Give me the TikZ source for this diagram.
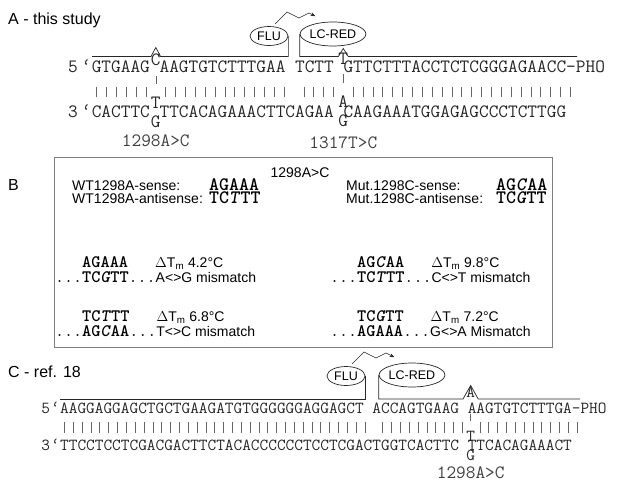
\documentclass[tikz,border=0pt]{standalone}
\usepackage{fontspec}
\setmainfont{Liberation Sans}
\usepackage{tikz}
\usetikzlibrary{positioning,shapes.geometric,arrows.meta}
\newcommand{\seqfont}[1]{\fontencoding{TU}\fontfamily{lmtt}\fontsize{#1}{#1}\selectfont}
\newcommand{\gap}{\phantom{A}}

\begin{document}
\begin{tikzpicture}[x=1pt, y=-1pt,
  font=\fontsize{14}{16}\selectfont,
  title/.style={anchor=base west, inner sep=0pt, font=\fontsize{16}{18}\selectfont},
  txt/.style={anchor=base west, inner sep=0pt},
  seqa/.style={anchor=base west, inner sep=0pt, text=black!85, font=\seqfont{18.8}},
  seqc/.style={anchor=base west, inner sep=0pt, text=black!85, font=\seqfont{16.84}},
  muta/.style={anchor=base, inner sep=0pt, text=black!85, font=\seqfont{18.8}},
  mutc/.style={anchor=base, inner sep=0pt, text=black!85, font=\seqfont{16.84}},
  dna/.style={txt, font=\seqfont{19}\bfseries},
  tag/.style={draw=black!85, ellipse, inner sep=0pt, line width=0.7pt, font=\fontsize{12.5}{14}\selectfont},
  flu/.style={tag, minimum width=38pt, minimum height=19pt},
  lcred/.style={tag, minimum width=61pt, minimum height=24pt},
  strand/.style={draw=black!85, line width=0.7pt},
  pair/.style={draw=black!60, line width=0.6pt},
  fret/.style={draw=black!85, line width=0.6pt, -{Stealth[length=5pt,width=3.5pt]}},
  panel/.style={draw=black!50, line width=0.8pt}
]
\useasboundingbox (0,0) rectangle (620,482);

% A - this study
\node[title] (ta) at (8,24.5) {A - this study};
\node[flu] (flu1) at (269,36) {FLU};
\node[lcred] (red1) at (333,34) {LC-RED};
\draw[fret] (flu1.center) ++(6,-12) -- ++(12,-12) -- ++(12,6) -- ++(10,-5) -- ([shift={(6,-9)}]red1.north west);

\node[seqa] (s5a) at (91.6,72) {GTGAAG\gap AAGTGTCTTTGAA\gap TCTT\gap GTTCTTTACCTCTCGGGAGAACC-PHO};
\node[seqa, left=0pt of s5a.base west, anchor=base east] {5\kern4pt‘};
\node[seqa] (s3a) at (91.6,117) {CACTTC\gap TTCACAGAAACTTCAGAA\gap CAAGAAATGGAGAGCCCTCTTGG};
\node[seqa, left=0pt of s3a.base west, anchor=base east] {3\kern4pt‘};

\node[muta] (ma1) at (155.8,65) {C};
\node[muta] (ma2) at (155.8,108) {T};
\node[muta] (ma3) at (155.8,127) {G};
\node[muta] (mb1) at (343.3,64) {T};
\node[muta] (mb2) at (343.3,107) {A};
\node[muta] (mb3) at (343.3,126) {G};
\node[muta, text=black!75] (la) at (155.8,146) {1298A>C};
\node[muta, text=black!75] (lb) at (343.3,148) {1317T>C};

\draw[strand] (92,56.5) -- (151,56.5) -- (155.8,47.5) -- (160.6,56.5) -| (flu1.east);
\draw[strand] (red1.west) |- (338.3,56.5) -- (343.3,48.5) -- (348.3,56.5) -- (577,56.5);
\draw[pair] ([yshift=-11pt]ma1.base) -- ([yshift=24pt]ma2.base);
\draw[pair] ([yshift=-10pt]mb1.base) -- ([yshift=24pt]mb2.base);
\foreach \a/\b in {0/5,7/19,21/24,26/48}
  \foreach \i in {\a,...,\b}
    \draw[pair] (s5a.base west) ++(\i*9.87+4.93,15) -- ++(0,10);

% B
\node[title] (tb) at (8,190) {B};
\draw[panel] (54,157) rectangle (552,347);
\node[txt, anchor=base] (hd) at (300,177) {1298A>C};
\node[txt] (wts) at (72,190) {WT1298A-sense:};
\node[txt] (wta) at (72,203) {WT1298A-antisense:};
\node[dna] (wtsq) at (209,190) {AGAAA};
\node[dna] (wtaq) at (209,203) {TC\textit{T}TT};
\node[txt] (mts) at (346,190) {Mut.1298C-sense:};
\node[txt] (mta) at (346,203) {Mut.1298C-antisense:};
\node[dna] (mtsq) at (496,190) {AG\textit{C}AA};
\node[dna] (mtaq) at (496,203) {TC\textit{G}TT};

\node[txt] (d1) at (55,267) {{\seqfont{17.5}\phantom{...}\textbf{AGAAA}\phantom{...}}$\Delta$T\textsubscript{m} 4.2°C};
\node[txt] (m1) at (55,282) {{\seqfont{17.5}...\textbf{TC\textit{G}TT}...}A<>G mismatch};
\node[txt] (d2) at (55,321) {{\seqfont{17.5}\phantom{...}\textbf{TC\textit{T}TT}\phantom{...}}$\Delta$T\textsubscript{m} 6.8°C};
\node[txt] (m2) at (55,336) {{\seqfont{17.5}...\textbf{AG\textit{C}AA}...}T<>C mismatch};
\node[txt] (d3) at (330,267) {{\seqfont{17.5}\phantom{...}\textbf{AG\textit{C}AA}\phantom{...}}$\Delta$T\textsubscript{m} 9.8°C};
\node[txt] (m3) at (330,282) {{\seqfont{17.5}...\textbf{TC\textit{T}TT}...}C<>T mismatch};
\node[txt] (d4) at (330,321) {{\seqfont{17.5}\phantom{...}\textbf{TC\textit{G}TT}\phantom{...}}$\Delta$T\textsubscript{m} 7.2°C};
\node[txt] (m4) at (330,336) {{\seqfont{17.5}...\textbf{AGAAA}...}G<>A Mismatch};

% C - ref. 18
\node[title] (tc) at (8,377) {C - ref. 18};
\node[flu] (flu2) at (346,376) {FLU};
\node[lcred] (red2) at (412,375) {LC-RED};
\draw[fret] (flu2.center) ++(6,-12) -- ++(12,-12) -- ++(12,6) -- ++(10,-5) -- ([shift={(6,-9)}]red2.north west);

\node[seqc] (s5c) at (60,413) {AAGGAGGAGCTGCTGAAGATGTGGGGGGAGGAGCT\gap ACCAGTGAAG\gap AAGTGTCTTTGA-PHO};
\node[seqc, left=0pt of s5c.base west, anchor=base east] {5\kern1pt‘};
\node[seqc] (s3c) at (60,450) {TTCCTCCTCGACGACTTCTACACCCCCCTCCTCGACTGGTCACTTC\gap TTCACAGAAACT};
\node[seqc, left=0pt of s3c.base west, anchor=base east] {3\kern1pt‘};

\node[mutc] (mc1) at (470.7,397.5) {A};
\node[mutc] (mc2) at (470.7,441) {T};
\node[mutc] (mc3) at (470.7,460) {G};
\node[muta, text=black!75] (lc) at (470.7,478) {1298A>C};

\draw[strand] (60,399) -| (flu2.east);
\draw[strand] (red2.west) |- (463,399) -- (470.7,385.5) -- (478.2,399) -- (580,399);
\draw[pair] ([yshift=-16pt]mc1.base) -- ([yshift=20pt]mc2.base);
\foreach \a/\b in {0/34,36/45,47/58}
  \foreach \i in {\a,...,\b}
    \draw[pair] (s5c.base west) ++(\i*8.84+4.42,9) -- ++(0,11);
\end{tikzpicture}
\end{document}
